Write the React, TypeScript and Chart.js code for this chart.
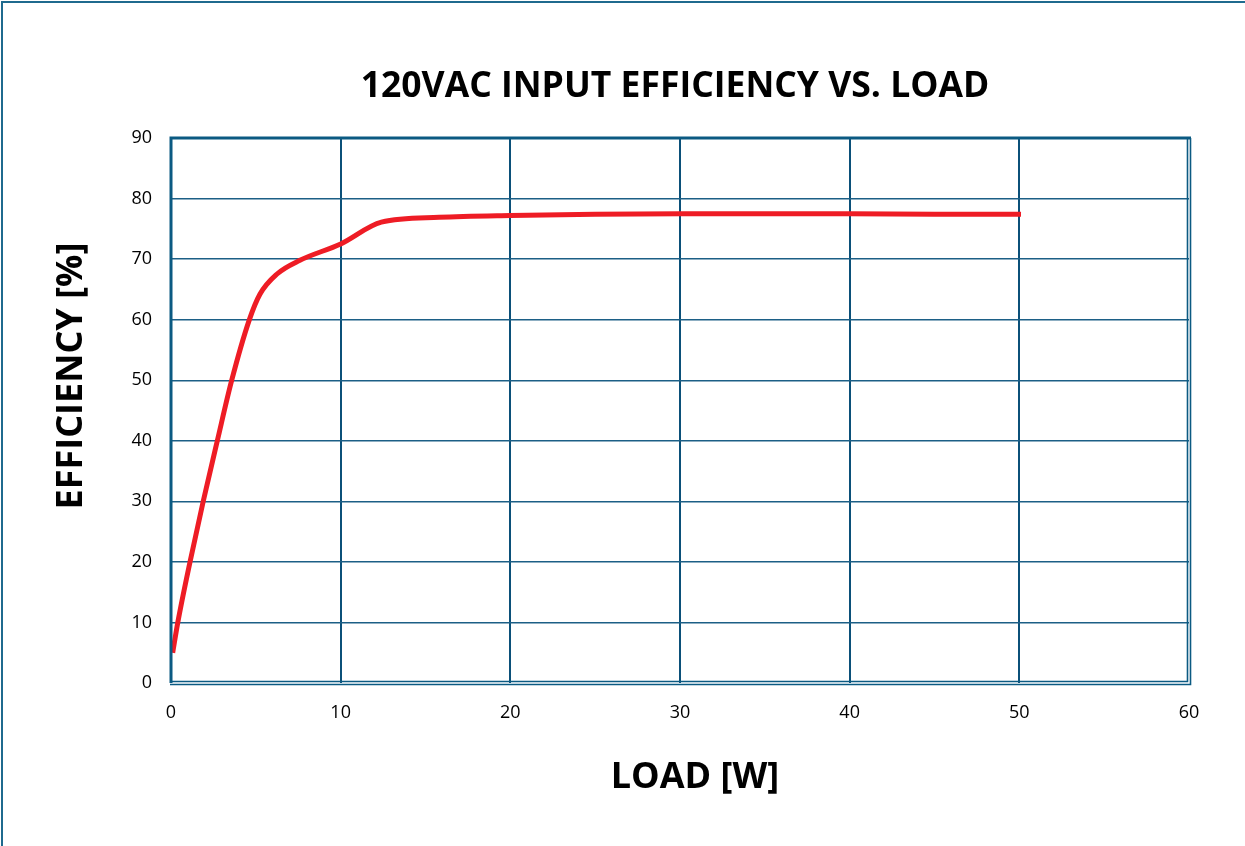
import React, { useEffect, useRef } from "react";
import { Chart, registerables } from "chart.js";

Chart.register(...registerables);

const loadW = [0.1, 0.4, 1.12, 1.9, 2.73, 3.58, 4.62, 5.24, 6.23, 7.6, 10, 12.4, 15.8, 20, 25, 30, 35, 40, 45, 50.1];
const efficiency = [5, 10, 20, 30, 40, 50, 60, 64.2, 67.5, 69.8, 72.5, 76.1, 76.9, 77.2, 77.4, 77.5, 77.5, 77.5, 77.4, 77.4];
const xTicks = [0, 10, 20, 30, 40, 50, 60];
const yTicks = [0, 10, 20, 30, 40, 50, 60, 70, 80, 90];

const chartTitle = "120VAC INPUT EFFICIENCY VS. LOAD";
const xTitle = "LOAD [W]";
const yTitle = "EFFICIENCY [%]";

const FONT = "'Open Sans', 'Noto Sans', sans-serif";
const FRAME = "#0b5a82";

const decor = {
  id: "decor",
  afterDraw(chart: any) {
    const { ctx, chartArea: a } = chart;
    ctx.save();
    // page border (top and left)
    ctx.strokeStyle = "#1f6a8e";
    ctx.lineWidth = 2;
    ctx.beginPath();
    ctx.moveTo(2, 846);
    ctx.lineTo(2, 2);
    ctx.lineTo(1245, 2);
    ctx.stroke();
    // plot frame
    ctx.strokeStyle = FRAME;
    ctx.lineWidth = 3;
    ctx.beginPath();
    ctx.moveTo(a.left, a.bottom);
    ctx.lineTo(a.left, a.top);
    ctx.lineTo(a.right + 2, a.top);
    ctx.stroke();
    ctx.lineWidth = 1.6;
    ctx.beginPath();
    ctx.moveTo(a.right - 1.5, a.top);
    ctx.lineTo(a.right - 1.5, a.bottom - 1.5);
    ctx.lineTo(a.left, a.bottom - 1.5);
    ctx.moveTo(a.right + 1.5, a.top);
    ctx.lineTo(a.right + 1.5, a.bottom + 1.5);
    ctx.lineTo(a.left - 1, a.bottom + 1.5);
    ctx.stroke();
    // titles
    ctx.fillStyle = "#000";
    ctx.textAlign = "center";
    ctx.textBaseline = "middle";
    ctx.font = `bold 35.5px ${FONT}`;
    ctx.fillText(chartTitle, 675, 87);
    ctx.font = `bold 36px ${FONT}`;
    ctx.fillText(xTitle, 695, 778);
    ctx.translate(72, 376);
    ctx.rotate(-Math.PI / 2);
    ctx.font = `bold 36px ${FONT}`;
    ctx.fillText(yTitle, 0, 0);
    ctx.restore();
  },
};

export default function App() {
  const ref = useRef<HTMLCanvasElement>(null);
  useEffect(() => {
    document.body.style.margin = "0";
    const canvas = ref.current!;
    const pts = loadW.map((x, i) => ({ x, y: efficiency[i] }));
    const chart = new Chart(canvas, {
      type: "line",
      data: {
        datasets: [
          {
            data: pts,
            borderColor: "#ee1c25",
            borderWidth: 5,
            pointRadius: 0,
            cubicInterpolationMode: "monotone",
            fill: false,
          },
        ],
      },
      options: {
        animation: false,
        responsive: false,
        devicePixelRatio: 1,
        layout: { padding: { left: 0, top: 138, right: 56, bottom: 0 } },
        plugins: { legend: { display: false }, tooltip: { enabled: false }, title: { display: false } },
        scales: {
          x: {
            type: "linear",
            min: 0,
            max: 60,
            afterFit: (s: any) => { s.height = 163; },
            afterBuildTicks: (s: any) => { s.ticks = xTicks.map((v) => ({ value: v })); },
            border: { display: false },
            grid: {
              drawTicks: false,
              lineWidth: 2,
              color: (c: any) => (c.tick && (c.tick.value === 0 || c.tick.value === 60) ? "rgba(0,0,0,0)" : "#0b5079"),
            },
            ticks: { padding: 19, color: "#000", font: { family: FONT, size: 18 } },
          },
          y: {
            type: "linear",
            min: 0,
            max: 90,
            afterFit: (s: any) => { s.width = 171; },
            afterBuildTicks: (s: any) => { s.ticks = yTicks.map((v) => ({ value: v })); },
            border: { display: false },
            grid: {
              drawTicks: false,
              lineWidth: 1.4,
              color: (c: any) => (c.tick && (c.tick.value === 0 || c.tick.value === 90) ? "rgba(0,0,0,0)" : "#1c5f86"),
            },
            ticks: { padding: 19, color: "#000", font: { family: FONT, size: 18 } },
          },
        },
      },
      plugins: [decor],
    });
    return () => chart.destroy();
  }, []);
  return (
    <div style={{ position: "absolute", left: 0, top: 0, width: 1245, height: 846, background: "#fff" }}>
      <canvas ref={ref} width={1245} height={846} style={{ display: "block" }} />
    </div>
  );
}
